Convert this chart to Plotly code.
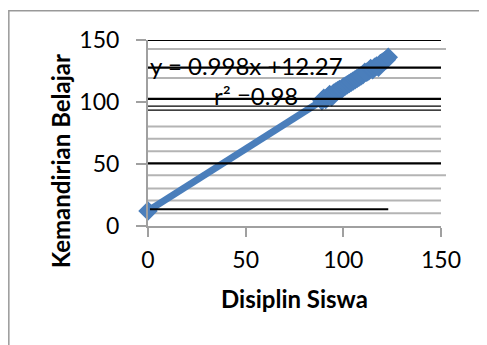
import plotly.graph_objects as go

# Data
disiplin = [0, 89, 90, 91, 92, 93, 94, 95, 96, 97, 98, 99, 100, 101, 102, 103, 104, 105,
            106, 107, 108, 109, 110, 111, 112, 113, 114, 115, 116, 117, 118, 119, 120, 121, 122, 123]
kemandirian = [12, 101, 103, 102, 104, 106, 104, 107, 108, 109, 110, 110, 112, 113, 114, 115, 116, 117,
               118, 119, 120, 121, 122, 124, 124, 125, 127, 126, 128, 129, 128, 131, 132, 133, 134, 136]
trend_x = [0, 123]
slope, intercept = 0.998, 12.27
trend_y = [slope * v + intercept for v in trend_x]

x_ticks = [0, 50, 100, 150]
y_ticks = [0, 50, 100, 150]

# Decorative horizontal lines seen in the scanned chart
gray_lines = [10.3, 20.5, 30.2, 40.9, 60.2, 70.4, 80.3, 119.4, 142.8]
black_thick = [150, 127.7, 102.5, 50.5]
black_thin = [96.6, 93.4]
black_short = 13.5

BLUE = "#4a7ebb"
FONT = "Lato"

fig = go.Figure()

fig.add_trace(go.Scatter(x=trend_x, y=trend_y, mode="lines", cliponaxis=False,
                         line=dict(color=BLUE, width=7), hoverinfo="skip", showlegend=False))
fig.add_trace(go.Scatter(x=disiplin, y=kemandirian, mode="markers", cliponaxis=False,
                         marker=dict(symbol="diamond", size=15, color=BLUE), showlegend=False))

shapes = []
for yv in gray_lines:
    shapes.append(dict(type="line", xref="paper", yref="y", x0=0, x1=1.0 if yv not in (40.9, 142.8) else 1.017,
                       y0=yv, y1=yv, line=dict(color="#b4b4b4", width=2), layer="below"))
for yv in black_thick:
    shapes.append(dict(type="line", xref="paper", yref="y", x0=0, x1=1, y0=yv, y1=yv,
                       line=dict(color="#000000", width=2.2), layer="above"))
for yv in black_thin:
    shapes.append(dict(type="line", xref="paper", yref="y", x0=0, x1=1, y0=yv, y1=yv,
                       line=dict(color="#000000", width=1.2), layer="above"))
shapes.append(dict(type="line", xref="x", yref="y", x0=1, x1=123, y0=black_short, y1=black_short,
                   line=dict(color="#000000", width=2.2), layer="above"))
# outer chart border (cut off on right and bottom)
shapes.append(dict(type="rect", xref="paper", yref="paper", x0=-0.475, x1=3, y0=-3, y1=1.157,
                   line=dict(color="#999999", width=1.5), fillcolor="rgba(0,0,0,0)", layer="above"))

fig.update_layout(
    width=479, height=337,
    margin=dict(l=140, r=46, t=32, b=118.5),
    paper_bgcolor="white", plot_bgcolor="white",
    font=dict(family=FONT, size=23, color="#000000"),
    shapes=shapes,
    showlegend=False,
    annotations=[
        dict(text="y = 0.998x +12.27", xref="x", yref="y", x=0, y=129.5, xanchor="left",
             yanchor="middle", showarrow=False, font=dict(family=FONT, size=24, color="#000")),
        dict(text="r² =0.98", xref="x", yref="y", x=32.8, y=105, xanchor="left",
             yanchor="middle", showarrow=False, font=dict(family=FONT, size=24, color="#000")),
        dict(text="<b>Kemandirian Belajar</b>", xref="paper", yref="paper", x=(60 - 148) / 293,
             y=(226.5 - 161.7) / 186.5, textangle=-90, showarrow=False, xanchor="center",
             yanchor="middle", font=dict(family=FONT, size=24, color="#000")),
        dict(text="<b>Disiplin Siswa</b>", xref="paper", yref="paper", x=(294 - 148) / 293,
             y=(226.5 - 299) / 186.5, showarrow=False, xanchor="center", yanchor="middle",
             font=dict(family=FONT, size=24, color="#000")),
    ],
)

fig.update_xaxes(range=[0, 150], tickvals=x_ticks, ticktext=[str(v) for v in x_ticks],
                 showgrid=False, zeroline=False, showline=True, linecolor="#a0a0a0", linewidth=2,
                 ticks="outside", ticklen=9, tickwidth=2, tickcolor="#a0a0a0",
                 ticklabelstandoff=3, fixedrange=True)
fig.update_yaxes(range=[0, 150], tickvals=y_ticks, ticktext=[str(v) for v in y_ticks],
                 showgrid=False, zeroline=False, showline=True, linecolor="#a0a0a0", linewidth=2,
                 ticks="outside", ticklen=10, tickwidth=2, tickcolor="#a0a0a0",
                 ticklabelstandoff=12, fixedrange=True)

fig.write_html("out.html")
